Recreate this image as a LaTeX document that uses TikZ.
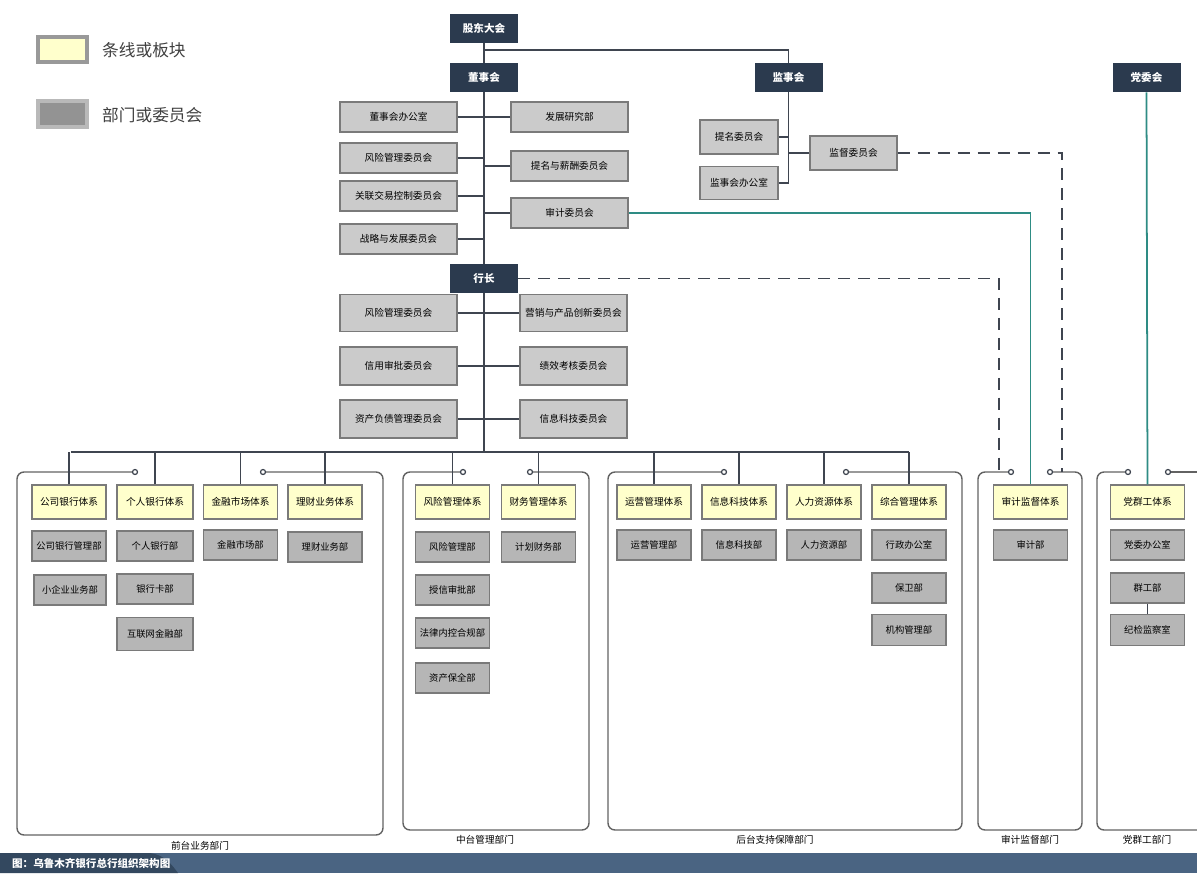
\documentclass[tikz,border=0pt]{standalone}
\usepackage{fontspec}
\setmainfont{Noto Sans CJK SC}
\usetikzlibrary{calc}
\definecolor{headblue}{HTML}{2B3A4E}
\definecolor{boxgray}{HTML}{CBCBCB}
\definecolor{deptgray}{HTML}{B6B6B6}
\definecolor{boxedge}{HTML}{7A7A7A}
\definecolor{sysyellow}{HTML}{FFFFCC}
\definecolor{linkgray}{HTML}{3F4550}
\definecolor{teal}{HTML}{2E8C84}
\definecolor{barblue}{HTML}{4A6482}
\definecolor{tabblue}{HTML}{33485F}
\tikzset{% styles for the boxes and lines
  head/.style={fill=headblue, text=white, font=\fontsize{6}{7}\selectfont\bfseries,
    minimum width=1.36cm, minimum height=0.58cm, inner sep=0pt},
  cmte/.style={fill=boxgray, draw=boxedge, line width=0.6pt, font=\fontsize{5.5}{6.5}\selectfont,
    minimum width=2.34cm, minimum height=0.6cm, inner sep=0pt},
  sysbox/.style={fill=sysyellow, draw=boxedge, line width=0.6pt, font=\fontsize{5.5}{6.5}\selectfont,
    minimum width=1.48cm, minimum height=0.68cm, inner sep=0pt},
  dept/.style={fill=deptgray, draw=boxedge, line width=0.6pt, font=\fontsize{5.3}{6.3}\selectfont,
    minimum width=1.48cm, minimum height=0.6cm, inner sep=0pt},
  link/.style={draw=linkgray, line width=0.8pt},
  dashlink/.style={draw=linkgray, line width=1.1pt, dash pattern=on 0.24cm off 0.16cm},
  teallink/.style={draw=teal, line width=1pt},
  cont/.style={draw=boxedge!80!black, line width=0.8pt, rounded corners=0.14cm},
  ring/.style={draw=linkgray, fill=white, line width=0.7pt},
  contlabel/.style={font=\fontsize{5.5}{6.5}\selectfont}
}

\begin{document}
\begin{tikzpicture}[x=0.02cm, y=-0.02cm]
\useasboundingbox (0,0) rectangle (1197,873);

% legend
\draw[draw=gray!80, line width=2pt, fill=sysyellow] (38,37) rectangle (87,62);
\node[anchor=west, font=\fontsize{9.5}{11}\selectfont, text=black!75] (lgA) at (96,50) {条线或板块};
\draw[draw=gray!55, line width=2pt, fill=gray!85] (38,101) rectangle (87,127);
\node[anchor=west, font=\fontsize{9.5}{11}\selectfont, text=black!75] (lgB) at (96,115) {部门或委员会};

% head nodes
\node[head] (gd) at (484,28) {股东大会};
\node[head] (dsh) at (484,77.5) {董事会};
\node[head] (jsh) at (788.5,77.5) {监事会};
\node[head] (dwh) at (1146.5,77.5) {党委会};
\node[head] (hz) at (484,278.5) {行长};

% board committees
\node[cmte] (dsbgs) at (398.5,117) {董事会办公室};
\node[cmte] (fxwy) at (398.5,158) {风险管理委员会};
\node[cmte] (glwy) at (398.5,196) {关联交易控制委员会};
\node[cmte] (zlwy) at (398.5,239) {战略与发展委员会};
\node[cmte] (fzyj) at (569.5,117) {发展研究部};
\node[cmte] (tmxc) at (569.5,166) {提名与薪酬委员会};
\node[cmte] (sjwy) at (569.5,213) {审计委员会};

% supervisory committees
\node[cmte, minimum width=1.56cm, minimum height=0.68cm] (tmwy) at (739,137) {提名委员会};
\node[cmte, minimum width=1.56cm, minimum height=0.66cm] (jsbgs) at (739,183) {监事会办公室};
\node[cmte, minimum width=1.74cm, minimum height=0.68cm] (jdwy) at (853.5,153) {监督委员会};

% president committees
\node[cmte, minimum height=0.74cm] (hfxwy) at (398.5,313) {风险管理委员会};
\node[cmte, minimum height=0.76cm] (xysp) at (398.5,366) {信用审批委员会};
\node[cmte, minimum height=0.76cm] (zcfz) at (398.5,419) {资产负债管理委员会};
\node[cmte, minimum width=2.14cm, minimum height=0.74cm] (yxcp) at (573.5,313) {营销与产品创新委员会};
\node[cmte, minimum width=2.14cm, minimum height=0.76cm] (jxkh) at (573.5,366) {绩效考核委员会};
\node[cmte, minimum width=2.14cm, minimum height=0.76cm] (xxkj) at (573.5,419) {信息科技委员会};

% coordinates to be reused
\coordinate (busL) at (71,452);
\coordinate (busR) at (909,452);
\coordinate (gdj) at (484,50);
\coordinate (audL) at (999,472);
\coordinate (audR) at (1062,472);

% containers
\draw[cont] (135,472) -- (17,472) -- (17,835) -- (383,835) -- (383,472) -- (263,472);
\draw[cont] (463,472) -- (403,472) -- (403,830) -- (589,830) -- (589,472) -- (530,472);
\draw[cont] (724,472) -- (608,472) -- (608,830) -- (962,830) -- (962,472) -- (846,472);
\draw[cont] (1011,472) -- (978,472) -- (978,830) -- (1082,830) -- (1082,472) -- (1050,472);
\draw[cont] (1128,472) -- (1097,472) -- (1097,830) -- (1220,830);
\draw[cont] (1168,472) -- (1220,472);
\foreach \cx in {135,263,463,530,724,846,1011,1050,1128,1168}
  \draw[ring] (\cx,472) circle (0.05cm);

% systems
\node[sysbox] (gsyh) at (69,502) {公司银行体系};
\node[sysbox, minimum width=1.52cm] (grxh) at (155,502) {个人银行体系};
\node[sysbox] (jrsc) at (240.5,502) {金融市场体系};
\node[sysbox] (lcyw) at (325,502) {理财业务体系};
\node[sysbox] (fxgl) at (452.5,502) {风险管理体系};
\node[sysbox] (cwgl) at (538.5,502) {财务管理体系};
\node[sysbox] (yygl) at (654,502) {运营管理体系};
\node[sysbox] (xxkjt) at (739,502) {信息科技体系};
\node[sysbox] (rlzy) at (824,502) {人力资源体系};
\node[sysbox] (zhgl) at (909,502) {综合管理体系};
\node[sysbox] (sjjd) at (1030.5,502) {审计监督体系};
\node[sysbox] (dqg) at (1147.5,502) {党群工体系};

% departments
\node[dept] (gsglb) at (69,546) {公司银行管理部};
\node[dept, minimum width=1.44cm] (xqyb) at (70,590) {小企业业务部};
\node[dept, minimum width=1.52cm] (grb) at (155,546) {个人银行部};
\node[dept, minimum width=1.52cm] (yhkb) at (155,589) {银行卡部};
\node[dept, minimum width=1.52cm, minimum height=0.66cm] (hlwjr) at (155,634) {互联网金融部};
\node[dept] (jrscb) at (240.5,545) {金融市场部};
\node[dept] (lcywb) at (325,547) {理财业务部};
\node[dept] (fxglb) at (452.5,547) {风险管理部};
\node[dept] (sxsp) at (452.5,590) {授信审批部};
\node[dept] (flhg) at (452.5,633) {法律内控合规部};
\node[dept] (zcbq) at (452.5,678) {资产保全部};
\node[dept] (jhcw) at (538.5,547) {计划财务部};
\node[dept] (yyglb) at (654,545) {运营管理部};
\node[dept] (xxkjb) at (739,545) {信息科技部};
\node[dept] (rlzyb) at (824,545) {人力资源部};
\node[dept] (xzbgs) at (909,545) {行政办公室};
\node[dept] (bwb) at (909,588) {保卫部};
\node[dept, minimum height=0.62cm] (jgglb) at (909,630) {机构管理部};
\node[dept] (sjb) at (1030.5,545) {审计部};
\node[dept] (dwbgs) at (1147.5,545) {党委办公室};
\node[dept] (qgb) at (1147.5,588) {群工部};
\node[dept, minimum height=0.62cm] (jjjc) at (1147.5,630) {纪检监察室};

% container labels
\node[contlabel] (lbA) at (200,846) {前台业务部门};
\node[contlabel] (lbB) at (485,840) {中台管理部门};
\node[contlabel] (lbC) at (775,840) {后台支持保障部门};
\node[contlabel] (lbD) at (1030,840) {审计监督部门};
\node[contlabel] (lbE) at (1147,840) {党群工部门};

% spine and branches
\draw[link] (gd.south) -- (dsh.north);
\draw[link] (dsh.south) -- (hz.north);
\draw[link] (hz.south) -- (hz.south |- busL);
\draw[link] (gdj) -| (jsh.north);
\foreach \n in {dsbgs,fxwy,glwy,zlwy}
  \draw[link] (\n.east) -- (\n.east -| dsh.south);
\foreach \n in {fzyj,tmxc,sjwy}
  \draw[link] (\n.west) -- (\n.west -| dsh.south);
\draw[link] (jsh.south) -- (jsh.south |- jsbgs.east);
\foreach \n in {tmwy,jsbgs}
  \draw[link] (\n.east) -- (\n.east -| jsh.south);
\draw[link] (jdwy.west) -- (jdwy.west -| jsh.south);
\draw[link] (hfxwy.east) -- (yxcp.west);
\draw[link] (xysp.east) -- (jxkh.west);
\draw[link] (zcfz.east) -- (xxkj.west);

% bus to systems
\draw[link] (busL) -- (busR);
\foreach \n in {gsyh,grxh,jrsc,lcyw,fxgl,cwgl,yygl,xxkjt,rlzy,zhgl}
  \draw[link] (\n.north) -- (\n.north |- busL);
\draw[link] (qgb.south) -- (jjjc.north);

% dashed and teal lines
\draw[dashlink] (jdwy.east) -| (audR);
\draw[dashlink] (hz.east) -| (audL);
\draw[teallink] (sjwy.east) -| (sjjd.north);
\draw[teallink] (dwh.south) -- (dqg.north);

% footer bar
\fill[barblue] (0,853) rectangle (1197,873);
\fill[tabblue] (0,853) -- (150,853) .. controls (165,855) and (172,865) .. (178,873) -- (0,873) -- cycle;
\node[anchor=west, text=white, font=\fontsize{6}{7}\selectfont\bfseries] (cap) at (6,863) {图：乌鲁木齐银行总行组织架构图};
\end{tikzpicture}
\end{document}
